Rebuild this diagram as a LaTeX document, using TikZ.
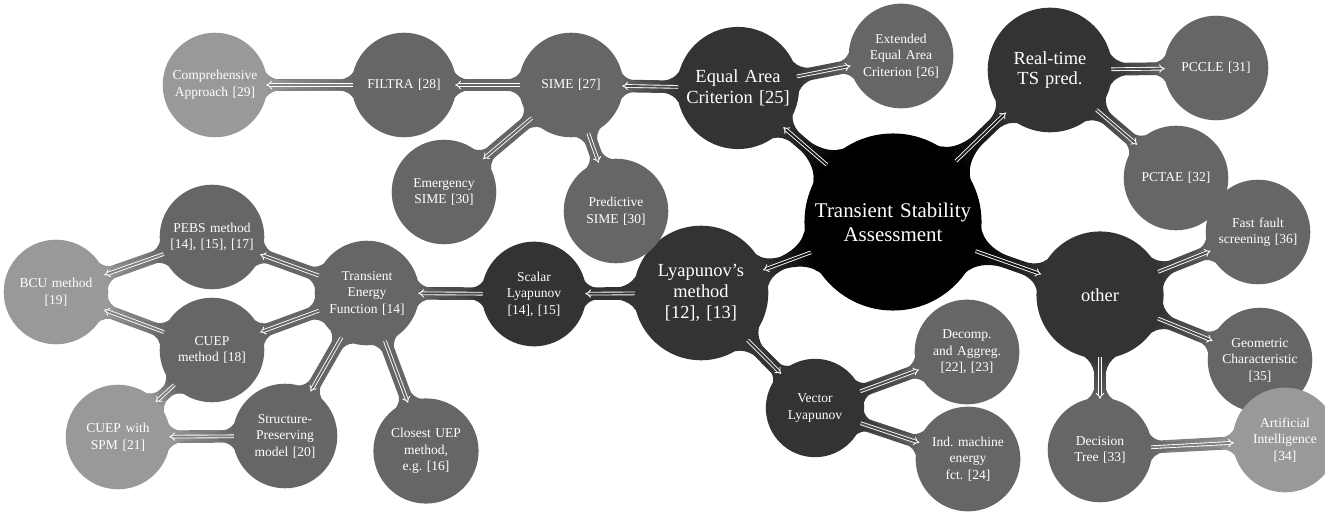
\documentclass[tikz,border=0pt]{standalone}
\usepackage{fontspec}
\setmainfont{Liberation Serif}
\usetikzlibrary{mindmap,arrows.meta,backgrounds}
\frenchspacing
\colorlet{tsa0}{black}
\colorlet{tsa1}{black!80}
\colorlet{tsa2}{black!60}
\colorlet{tsa3}{black!40}
\tikzset{
  rootnode/.style={concept, concept color=tsa0, text=white, align=center,
    minimum size=3.5cm, text width=3.2cm, inner sep=1pt, font=\fontsize{11.9}{13.5}\selectfont},
  mainnode/.style={concept, concept color=tsa1, text=white, align=center,
    minimum size=#1, text width=2.1cm, inner sep=1pt, font=\fontsize{10.5}{11.8}\selectfont},
  mainnode/.default=2.45cm,
  subnode/.style={concept, concept color=#1, text=white, align=center,
    minimum size=2.05cm, text width=1.75cm, inner sep=1pt, font=\fontsize{7.7}{9.4}\selectfont},
  subnode/.default=tsa2,
  backbar/.style={draw=#1, line width=7.2pt},
  flow/.style={draw=white, double=#1, double distance=1.1pt, line width=0.5pt, -{Implies}}
}

\begin{document}
\begin{tikzpicture}[mindmap, x=0.02cm, y=-0.02cm]
\useasboundingbox (0,0) rectangle (1325,523);

\node[rootnode] (root) at (893,222) {Transient Stability\\Assessment};

\node[mainnode=2.4cm] (eac) at (738,88) {Equal Area\\Criterion [25]};
\node[mainnode=2.45cm] (rt) at (1050,70) {Real-time\\TS pred.};
\node[mainnode=2.65cm] (lyap) at (701,293) {Lyapunov's\\method\\{}[12], [13]};
\node[mainnode=2.5cm] (other) at (1100,295) {other};

\node[subnode] (sime) at (571,85) {SIME [27]};
\node[subnode] (eeac) at (901,56) {Extended\\Equal Area\\Criterion [26]};
\node[subnode] (filtra) at (404,85) {FILTRA [28]};
\node[subnode=tsa3] (comp) at (215,85) {Comprehensive\\Approach [29]};
\node[subnode] (emerg) at (444,192) {Emergency\\SIME [30]};
\node[subnode] (pred) at (616,211) {Predictive\\SIME [30]};

\node[subnode] (pccle) at (1216,68) {PCCLE [31]};
\node[subnode] (pctae) at (1176,178) {PCTAE [32]};
\node[subnode] (fast) at (1258,232) {Fast fault\\screening [36]};
\node[subnode] (geom) at (1260,360) {Geometric\\Characteristic\\{}[35]};
\node[subnode] (dtree) at (1100,450) {Decision\\Tree [33]};
\node[subnode=tsa3] (ai) at (1285,440) {Artificial\\Intelligence\\{}[34]};

\node[subnode=tsa1] (scalar) at (534,294) {Scalar\\Lyapunov\\{}[14], [15]};
\node[subnode=tsa1, minimum size=1.9cm] (vector) at (815,408) {Vector\\Lyapunov};
\node[subnode] (decomp) at (967,352) {Decomp.\\and Aggreg.\\{}[22], [23]};
\node[subnode] (indm) at (968,459) {Ind. machine\\energy\\fct. [24]};

\node[subnode] (tef) at (367,293) {Transient\\Energy\\Function [14]};
\node[subnode] (pebs) at (212,237) {PEBS method\\{}[14], [15], [17]};
\node[subnode=tsa3] (bcu) at (56,292) {BCU method\\{}[19]};
\node[subnode] (cuep) at (212,350) {CUEP\\method [18]};
\node[subnode=tsa3] (cuepspm) at (118,437) {CUEP with\\SPM [21]};
\node[subnode] (struct) at (285,436) {Structure-\\Preserving\\model [20]};
\node[subnode] (closest) at (426,451) {Closest UEP\\method,\\e.g. [16]};

\foreach \a/\b/\ca/\cb in {root/eac/tsa0/tsa1, root/rt/tsa0/tsa1, root/lyap/tsa0/tsa1, root/other/tsa0/tsa1,
  eac/sime/tsa1/tsa2, eac/eeac/tsa1/tsa2, sime/filtra/tsa2/tsa2, filtra/comp/tsa2/tsa3,
  sime/emerg/tsa2/tsa2, sime/pred/tsa2/tsa2,
  rt/pccle/tsa1/tsa2, rt/pctae/tsa1/tsa2,
  other/fast/tsa1/tsa2, other/geom/tsa1/tsa2, other/dtree/tsa1/tsa2, dtree/ai/tsa2/tsa3,
  lyap/scalar/tsa1/tsa1, lyap/vector/tsa1/tsa1, scalar/tef/tsa1/tsa2,
  vector/decomp/tsa1/tsa2, vector/indm/tsa1/tsa2,
  tef/pebs/tsa2/tsa2, tef/cuep/tsa2/tsa2, tef/struct/tsa2/tsa2, tef/closest/tsa2/tsa2,
  pebs/bcu/tsa2/tsa3, cuep/bcu/tsa2/tsa3, cuep/cuepspm/tsa2/tsa3, struct/cuepspm/tsa2/tsa3}
{
  \begin{scope}[on background layer]
    \draw[backbar=\ca!50!\cb] (\a) -- (\b);
  \end{scope}
  \path (\a) to[circle connection bar switch color=from (\ca) to (\cb)] (\b);
  \draw[flow=\ca!50!\cb] (\a) -- (\b);
}
\end{tikzpicture}
\end{document}
